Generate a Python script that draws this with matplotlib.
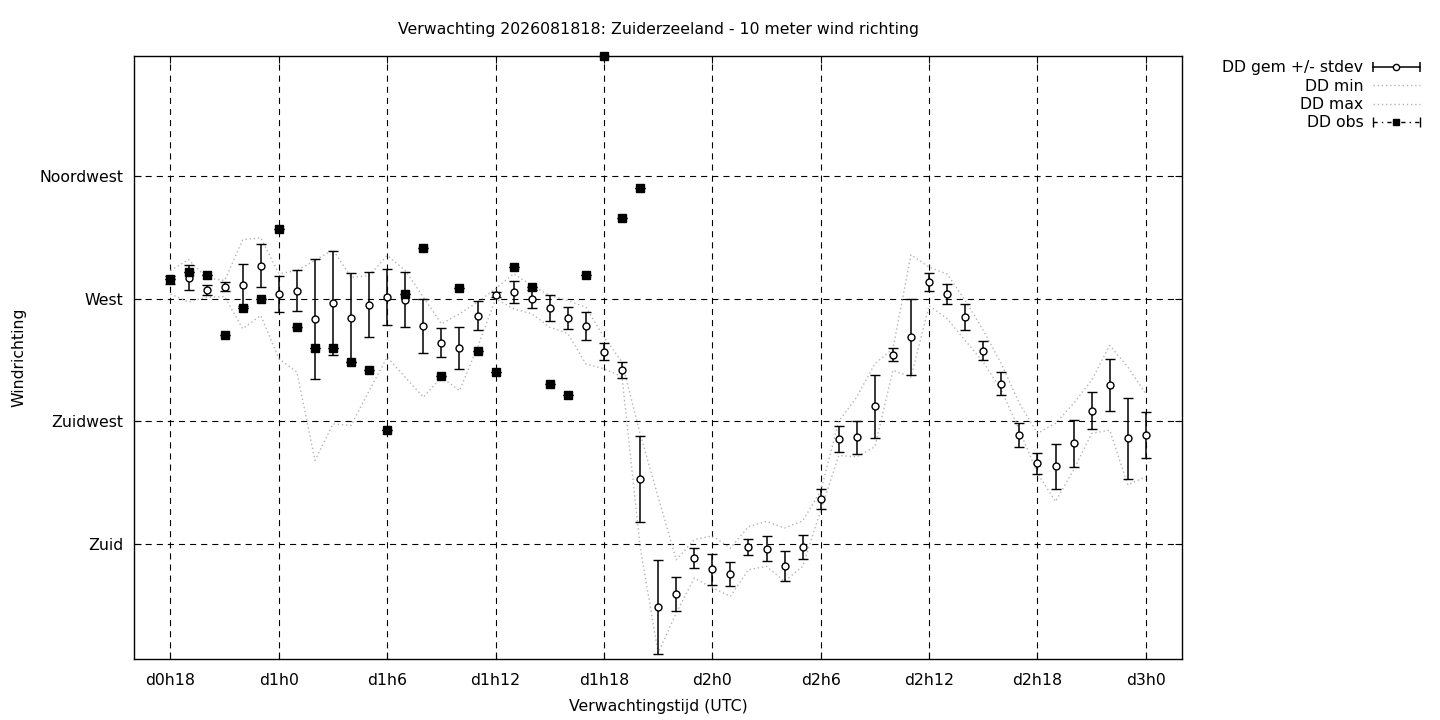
import numpy as np
import matplotlib.pyplot as plt
from matplotlib.lines import Line2D
from matplotlib.legend_handler import HandlerLine2D, HandlerTuple

# forecast hours, counted from d0h0
hours = list(range(18, 73))

# ensemble mean wind direction (deg) and its stdev
dd_gem = [277.0, 277.7, 273.3, 274.4, 275.1, 282.1, 271.8, 273.0, 262.7, 268.5,
          263.1, 267.8, 270.7, 269.7, 260.1, 253.9, 252.0, 263.8, 271.5, 272.6,
          270.0, 266.7, 263.0, 260.1, 250.6, 243.9, 204.0, 156.9, 161.7, 174.9,
          170.8, 169.0, 178.9, 178.3, 171.9, 178.9, 196.6, 218.4, 219.1, 230.5,
          249.5, 256.1, 276.2, 271.8, 263.4, 251.0, 238.9, 219.9, 209.6, 208.5,
          216.9, 229.0, 238.5, 218.8, 219.9]
dd_sd = [1.5, 4.6, 1.8, 1.7, 7.6, 7.9, 6.6, 7.5, 22.0, 19.0,
         16.3, 11.9, 10.3, 10.0, 9.9, 5.3, 7.7, 5.3, 1.0, 4.0,
         3.2, 4.8, 3.9, 5.1, 3.1, 2.8, 15.8, 17.3, 6.2, 3.8,
         5.7, 4.4, 3.1, 4.5, 5.4, 4.4, 3.7, 4.8, 6.2, 11.7,
         2.3, 13.9, 3.2, 3.8, 4.8, 3.5, 4.2, 4.4, 3.8, 8.2,
         8.6, 6.8, 9.5, 14.8, 8.4]
dd_min = [271.8, 268.8, 270.6, 270.8, 259.0, 263.9, 248.0, 243.1, 210.7, 224.1,
          223.5, 236.3, 248.6, 241.2, 233.9, 241.2, 236.3, 252.2, 270.0, 266.3,
          264.5, 259.6, 257.2, 246.1, 244.3, 241.4, 179.1, 140.0, 154.7, 167.5,
          163.9, 160.8, 170.6, 171.8, 166.3, 171.8, 192.3, 212.5, 212.0, 215.7,
          243.8, 241.3, 267.5, 262.7, 254.7, 246.8, 236.4, 221.8, 206.0, 195.6,
          207.2, 220.6, 221.8, 201.7, 204.7]
dd_max = [280.4, 284.4, 277.7, 276.7, 291.7, 292.4, 279.2, 280.4, 284.1, 288.0,
          277.9, 278.5, 285.9, 280.4, 270.6, 260.8, 264.5, 268.8, 273.7, 279.2,
          274.9, 271.2, 269.4, 266.9, 255.9, 246.8, 220.5, 197.3, 174.2, 181.6,
          183.0, 178.5, 186.4, 188.3, 185.9, 188.5, 199.5, 225.0, 234.0, 246.2,
          251.7, 286.2, 281.6, 279.1, 269.4, 258.4, 246.2, 231.6, 220.6, 224.3,
          231.6, 240.1, 252.9, 245.0, 235.2]

# observations
obs_hours = list(range(18, 45))
dd_obs = [277.1, 279.9, 278.8, 256.8, 266.8, 270.0, 295.7, 259.8, 252.0, 252.0,
          246.9, 243.9, 222.0, 271.9, 288.7, 241.7, 274.0, 250.9, 243.0, 281.7,
          274.5, 238.8, 234.8, 278.8, 359.0, 299.7, 310.7]

tick_hours = [18, 24, 30, 36, 42, 48, 54, 60, 66, 72]
tick_labels = ['d%dh%d' % (h // 24, h % 24) for h in tick_hours]
dir_ticks = [180, 225, 270, 315]
dir_labels = ['Zuid', 'Zuidwest', 'West', 'Noordwest']

fs = 11.3
plt.rcParams['font.family'] = ['DejaVu Sans']

fig = plt.figure(figsize=(14.4, 7.2), dpi=100)
ax = fig.add_axes([0.0933, 0.0847, 0.7275, 0.8371])

ax.grid(True, color='k', linestyle=(0, (5.5, 4.5)), linewidth=0.8, zorder=0)
ax.set_axisbelow(True)

dotted = dict(color='#b4b4b4', linestyle=(0, (1, 2)), linewidth=1.0)
ax.plot(hours, dd_min, zorder=2, **dotted)
ax.plot(hours, dd_max, zorder=2, **dotted)

ax.errorbar(hours, dd_gem, yerr=dd_sd, fmt='o', color='k', mfc='w', mec='k',
            ms=5, mew=1, capsize=3.5, elinewidth=1.1, capthick=1.1, zorder=3)
ax.errorbar(obs_hours, dd_obs, yerr=np.zeros(len(dd_obs)), fmt='s', color='k',
            ms=5.5, capsize=3.5, elinewidth=1.0, capthick=1.0, zorder=4,
            clip_on=False)

ax.set_xlim(16, 74)
ax.set_ylim(137.8, 359)
ax.set_xticks(tick_hours)
ax.set_xticklabels(tick_labels)
ax.set_yticks(dir_ticks)
ax.set_yticklabels(dir_labels)
ax.tick_params(axis='both', direction='in', length=5, width=0.8,
               top=True, right=True, labelsize=fs)
ax.tick_params(axis='x', pad=10)
ax.tick_params(axis='y', pad=8)
for s in ax.spines.values():
    s.set_linewidth(1.0)

ax.set_title('Verwachting 2026081818: Zuiderzeeland - 10 meter wind richting',
             fontsize=fs, pad=16)
ax.set_xlabel('Verwachtingstijd (UTC)', fontsize=fs, labelpad=8)
ax.set_ylabel('Windrichting', fontsize=fs, labelpad=9)

# legend samples in gnuplot style
gem_line = Line2D([], [], color='k', lw=1.1, marker='o', mfc='w', mec='k', ms=4.5)
gem_caps = Line2D([], [], color='k', lw=0, marker='|', ms=7, mew=1.1)
min_line = Line2D([], [], **dotted)
max_line = Line2D([], [], **dotted)
obs_line = Line2D([], [], color='k', lw=1.0, linestyle=(0, (3, 3, 1, 3)),
                  marker='s', ms=5)
obs_caps = Line2D([], [], color='k', lw=0, marker='|', ms=7, mew=1.0)

hmap = {gem_line: HandlerLine2D(numpoints=1), obs_line: HandlerLine2D(numpoints=1),
        gem_caps: HandlerLine2D(numpoints=2, marker_pad=0),
        obs_caps: HandlerLine2D(numpoints=2, marker_pad=0),
        tuple: HandlerTuple(ndivide=1, pad=0)}
fig.legend([(gem_line, gem_caps), min_line, max_line, (obs_line, obs_caps)],
           ['DD gem +/- stdev', 'DD min', 'DD max', 'DD obs'],
           loc='upper right', bbox_to_anchor=(1434 / 1440, 1 - 46 / 720),
           frameon=False, markerfirst=False, fontsize=fs,
           handlelength=3.0, handletextpad=0.6, labelspacing=0.22,
           handler_map=hmap)

fig.savefig('out.png', dpi=100)
